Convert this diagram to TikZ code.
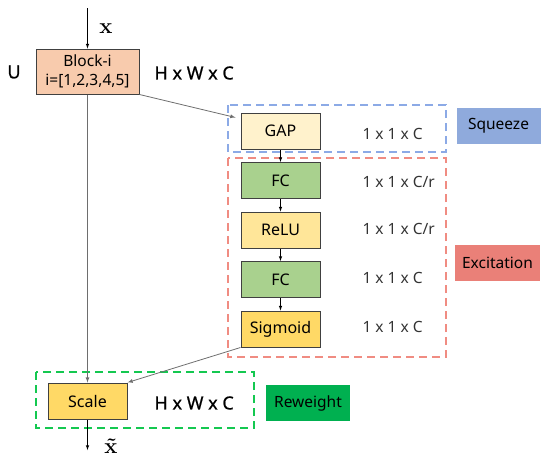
\documentclass[tikz,border=0pt]{standalone}
\usepackage{fontspec}
\setmainfont{Noto Sans}
\newfontfamily\lmroman{Latin Modern Roman}
\newfontfamily\medsans[FakeBold=0.8]{Noto Sans}
\usepackage{xcolor}
\usetikzlibrary{shapes, arrows, positioning, calc}

\definecolor{peach}{RGB}{248,203,173}
\definecolor{gapcol}{RGB}{255,242,204}
\definecolor{fccol}{RGB}{169,209,142}
\definecolor{relucol}{RGB}{255,230,153}
\definecolor{sigcol}{RGB}{255,217,102}
\definecolor{sqzcol}{RGB}{143,170,220}
\definecolor{exccol}{RGB}{234,128,120}
\definecolor{rwcol}{RGB}{0,176,80}
\definecolor{dashblue}{RGB}{140,170,230}
\definecolor{dashred}{RGB}{240,140,130}
\definecolor{dashgreen}{RGB}{20,200,80}
\definecolor{linegray}{RGB}{110,110,110}

\begin{document}
\begin{tikzpicture}[
    x=1pt, y=-1pt,
    box/.style={rectangle, draw=black!75, line width=1pt, minimum width=79pt, minimum height=36pt, font=\fontsize{16}{18}\selectfont},
    tag/.style={rectangle, minimum width=84pt, minimum height=36pt, font=\fontsize{15.5}{17}\selectfont},
    dim/.style={anchor=west, text=black!80, font=\fontsize{15.5}{17}\selectfont},
    bigdim/.style={anchor=west, font=\fontsize{18}{20}\selectfont\medsans},
    vec/.style={font=\fontsize{22}{24}\selectfont\lmroman\bfseries},
    group/.style={dashed, dash pattern=on 8pt off 5pt, line width=1.5pt},
    arrow/.style={-latex, line width=0.6pt},
    longarrow/.style={-latex, draw=linegray, line width=0.8pt}
]
\useasboundingbox (0,0) rectangle (550,461);

% Block and dimensions
\node[box, fill=peach, minimum width=103pt, minimum height=45pt, align=center, font=\fontsize{15.5}{19}\selectfont] (block) at (87.5,71.5) {Block-i\\i=[1,2,3,4,5]};
\node[font=\fontsize{18}{20}\selectfont\medsans] (u) at (14,72) {U};
\node[bigdim] (hwc1) at (151,73) {H x W x C};
\coordinate (xin) at (87.5,8);
\node[vec] (xlab) at (106,29) {x};

% Squeeze / excitation chain
\node[box, fill=gapcol] (gap) at (280.5,131) {GAP};
\node[box, fill=fccol, below=12.5pt of gap] (fc1) {FC};
\node[box, fill=relucol, below=12.5pt of fc1] (relu) {ReLU};
\node[box, fill=fccol, below=12.5pt of relu] (fc2) {FC};
\node[box, fill=sigcol, below=12.5pt of fc2] (sig) {Sigmoid};

\node[dim] (d1) at (359,134) {1 x 1 x C};
\node[dim] (d2) at (359,182) {1 x 1 x C/r};
\node[dim] (d3) at (359,229) {1 x 1 x C/r};
\node[dim] (d4) at (359,278) {1 x 1 x C};
\node[dim] (d5) at (359,327) {1 x 1 x C};

% Scale
\node[box, fill=sigcol] (scale) at (87.5,401) {Scale};
\node[bigdim] (hwc2) at (151,403) {H x W x C};
\coordinate (xout) at (87.5,450);
\node[vec] (xtlab) at (111,446) {\~{x}};

% Groups
\draw[group, dashblue] (228,105) rectangle (446,152);
\draw[group, dashred] (228,158) rectangle (446,357);
\draw[group, dashgreen] (36,372) rectangle (254,428);

\node[tag, fill=sqzcol] (sqz) at (498.5,126) {Squeeze};
\node[tag, fill=exccol, minimum width=85pt] (exc) at (497.5,263) {Excitation};
\node[tag, fill=rwcol] (rw) at (308,403) {Reweight};

% Connectors
\draw[arrow] (xin) -- (block.north);
\draw[arrow] (gap) -- (fc1);
\draw[arrow] (fc1) -- (relu);
\draw[arrow] (relu) -- (fc2);
\draw[arrow] (fc2) -- (sig);
\draw[longarrow] (block.south east) -- ([xshift=-5pt,yshift=-5pt]gap.north west);
\draw[longarrow] (block.south) -- (scale.north);
\draw[longarrow] (sig.south west) -- (scale.north east);
\draw[arrow] (scale.south) -- (xout);

\end{tikzpicture}
\end{document}
